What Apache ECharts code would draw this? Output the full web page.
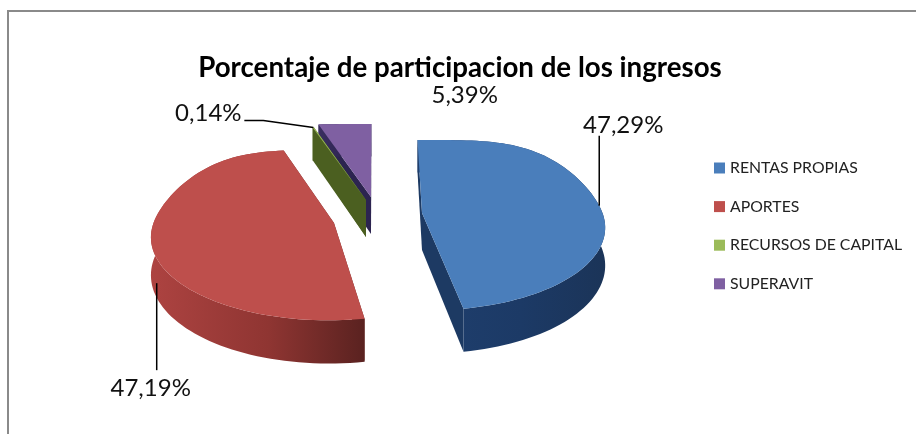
<!DOCTYPE html>
<html>
<head>
<meta charset="utf-8">
<style>
html, body { margin: 0; padding: 0; background: #fff; }
#main { width: 916px; height: 434px; }
</style>
<script src="https://cdn.jsdelivr.net/npm/echarts@6/dist/echarts.min.js"></script>
</head>
<body>
<div id="main"></div>
<script>
// datos del grafico
var categories = ['RENTAS PROPIAS', 'APORTES', 'RECURSOS DE CAPITAL', 'SUPERAVIT'];
var values = [47.29, 47.19, 0.14, 5.39];

// colores: cara superior, pared exterior, pared radial
var topColors = ['#4a7ebb', '#be4f4c', '#9bbb59', '#7f60a2'];
var radialColors = ['#1d3a63', '#6a2825', '#4b5f20', '#2c2450'];
var wallStops = [
    ['#1f3f6e', '#1c3a66', '#1b3458'],
    ['#ad4341', '#8f3532', '#5a2220'],
    ['#5a7028', '#4b5f20', '#4b5f20'],
    ['#3a2e60', '#2c2450', '#2c2450']
];

// vertice de cada porcion (explosion), en pixeles
var vertices = [[422, 213], [334, 223], [366, 200], [371, 197]];
// etiqueta: desplazamiento desde el punto medio de la porcion
var labelOffsets = [[24, -80], [-1, 143], [-105, -14], [120, -29]];
var leaderOffsets = [
    [[0, 0], [0, -70]],
    [[5, 38], [5, 125]],
    [[0, 0], [-50, -7], [-69, -7]],
    null
];

var radiusX = 180.5;
var radiusY = 83.4;
var perspective = 0.143;
var wallHeight = 37;
var viewCenterX = 375;
var leanPerPixel = 0.0013;
var backBulge = 8;
var total = values.reduce(function (a, b) { return a + b; }, 0);

// angulo (grados, horario desde las 12) -> pixel relativo al vertice
function project(angle, down, vertex) {
    var rad = angle * Math.PI / 180;
    var u = Math.sin(rad);
    var v = Math.cos(rad);
    var s = 1 / (1 + perspective * v);
    var y = -radiusY * v * s;
    // el borde trasero del original es algo mas lleno que una elipse
    if (v > 0) y -= backBulge * Math.pow(Math.sin(2 * rad), 2);
    // las porciones separadas se inclinan segun su distancia al centro de la vista
    var lean = (vertex[0] - viewCenterX) * leanPerPixel;
    return [radiusX * u * s + lean * y, y + (down ? wallHeight * s : 0)];
}

function arcPoints(from, to, vertex, down) {
    var pts = [];
    var steps = Math.max(2, Math.ceil(Math.abs(to - from) / 2));
    for (var i = 0; i <= steps; i++) {
        var p = project(from + (to - from) * i / steps, down, vertex);
        pts.push([vertex[0] + p[0], vertex[1] + p[1]]);
    }
    return pts;
}

function sliceRange(index) {
    var before = 0;
    for (var i = 0; i < index; i++) before += values[i];
    return [before / total * 360, (before + values[index]) / total * 360];
}

function formatPct(v) {
    return v.toFixed(2).replace('.', ',') + '%';
}

function renderSlice(index) {
    return function (params, api) {
        var range = sliceRange(index);
        var a0 = range[0], a1 = range[1];
        var vertex = vertices[index];
        var down = [vertex[0], vertex[1] + wallHeight];
        var topArc = arcPoints(a0, a1, vertex, false);
        var lowArc = arcPoints(a0, a1, vertex, true);
        var children = [];

        // paredes radiales
        [topArc[0], topArc[topArc.length - 1]].forEach(function (p, i) {
            var q = i === 0 ? lowArc[0] : lowArc[lowArc.length - 1];
            children.push({
                type: 'polygon',
                shape: { points: [vertex, p, q, down] },
                style: { fill: radialColors[index] }
            });
        });
        // pared exterior
        var stops = wallStops[index];
        children.push({
            type: 'polygon',
            shape: { points: topArc.concat(lowArc.slice().reverse()) },
            style: {
                fill: new echarts.graphic.LinearGradient(0, 0, 1, 0, [
                    { offset: 0, color: stops[0] },
                    { offset: 0.55, color: stops[1] },
                    { offset: 1, color: stops[2] }
                ])
            }
        });
        // cara superior
        children.push({
            type: 'polygon',
            shape: { points: [vertex].concat(topArc) },
            style: { fill: topColors[index] }
        });

        // linea guia y etiqueta, desde el punto medio de la porcion
        var mid = project((a0 + a1) / 2, false, vertex);
        var anchor = [vertex[0] + mid[0], vertex[1] + mid[1]];
        if (leaderOffsets[index]) {
            children.push({
                type: 'polyline',
                shape: {
                    points: leaderOffsets[index].map(function (o) {
                        return [anchor[0] + o[0], anchor[1] + o[1]];
                    })
                },
                style: { fill: 'none', stroke: '#000', lineWidth: 1.5 }
            });
        }
        children.push({
            type: 'text',
            x: anchor[0] + labelOffsets[index][0],
            y: anchor[1] + labelOffsets[index][1],
            style: {
                text: formatPct(api.value(0)),
                fontFamily: 'Lato',
                fontSize: 24,
                fill: '#111',
                align: 'center',
                verticalAlign: 'middle'
            }
        });
        return { type: 'group', children: children };
    };
}

var myChart = echarts.init(document.getElementById('main'));

var series = categories.map(function (name, i) {
    return {
        type: 'custom',
        name: name,
        coordinateSystem: 'none',
        z: 10 - i,
        silent: true,
        animation: false,
        itemStyle: { color: topColors[i] },
        renderItem: renderSlice(i),
        data: [[values[i]]]
    };
});

option = {
    backgroundColor: '#fff',
    animation: false,
    title: {
        text: 'Porcentaje de participacion de los ingresos',
        left: 455,
        top: 49,
        textAlign: 'center',
        textStyle: { fontFamily: 'Lato', fontWeight: 'bold', fontSize: 27.7, color: '#000' }
    },
    legend: {
        orient: 'vertical',
        left: 709,
        top: 155,
        icon: 'rect',
        itemWidth: 11,
        itemHeight: 11,
        itemGap: 22.6,
        selectedMode: false,
        data: categories,
        textStyle: { fontFamily: 'Lato', fontSize: 15.8, color: '#222' }
    },
    graphic: [{
        type: 'rect',
        silent: true,
        shape: { x: 8, y: 11, width: 1000, height: 1000 },
        style: { fill: 'none', stroke: '#8a8a8a', lineWidth: 2 }
    }],
    series: series
};
myChart.setOption(option);
</script>
</body>
</html>
